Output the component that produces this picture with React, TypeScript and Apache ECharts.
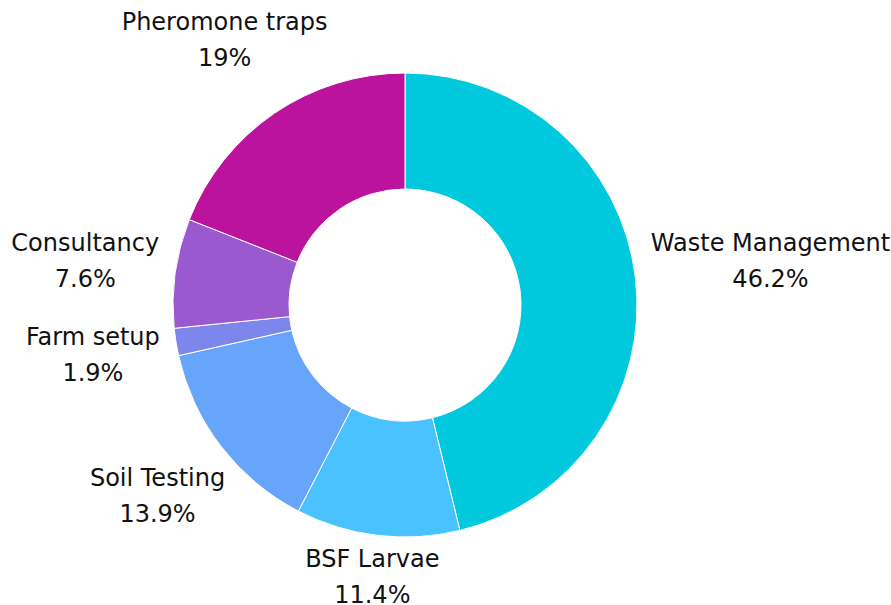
import React, { useEffect, useRef } from "react";
import * as echarts from "echarts";

const categories = ["Waste Management", "BSF Larvae", "Soil Testing", "Farm setup", "Consultancy", "Pheromone traps"];
const values = [46.2, 11.4, 13.9, 1.9, 7.6, 19];
const colors = ["#00C9DD", "#4AC2FF", "#66A5F9", "#7D86EA", "#9B59D0", "#BB139E"];

const CX = 405;
const CY = 305;
const R_IN = 116;
const R_OUT = 232;
const LABEL_GAP = 247;

export default function App() {
  const ref = useRef<HTMLDivElement>(null);
  useEffect(() => {
    document.body.style.margin = "0";
    if (!ref.current) return;
    const chart = echarts.init(ref.current, undefined, { renderer: "svg" });
    const total = values.reduce((a, b) => a + b, 0);
    const mids: number[] = [];
    let acc = 0;
    values.forEach((v) => {
      mids.push(((acc + v / 2) / total) * 2 * Math.PI);
      acc += v;
    });
    chart.setOption({
      animation: false,
      backgroundColor: "#ffffff",
      series: [
        {
          type: "pie",
          center: [CX, CY],
          radius: [R_IN, R_OUT],
          startAngle: 90,
          clockwise: true,
          avoidLabelOverlap: false,
          itemStyle: { borderColor: "#ffffff", borderWidth: 1 },
          label: {
            show: true,
            position: "outside",
            formatter: (p: any) => `${p.name}\n${p.value}%`,
            fontFamily: "DejaVu Sans",
            fontSize: 24,
            lineHeight: 36,
            color: "#111111",
            align: "center",
          },
          labelLine: { show: false },
          labelLayout: (p: any) => {
            const a = mids[p.dataIndex];
            const dx = Math.sin(a);
            const dy = -Math.cos(a);
            const hw = p.labelRect.width / 2;
            const hh = p.labelRect.height * 0.27;
            const d = LABEL_GAP + hw * Math.abs(dx) + hh * Math.abs(dy);
            return { x: CX + d * dx, y: CY + d * dy, align: "center", verticalAlign: "middle" };
          },
          data: categories.map((name, i) => ({ name, value: values[i], itemStyle: { color: colors[i] } })),
        },
      ],
    });
    return () => chart.dispose();
  }, []);
  return <div ref={ref} style={{ width: 891, height: 605 }} />;
}
